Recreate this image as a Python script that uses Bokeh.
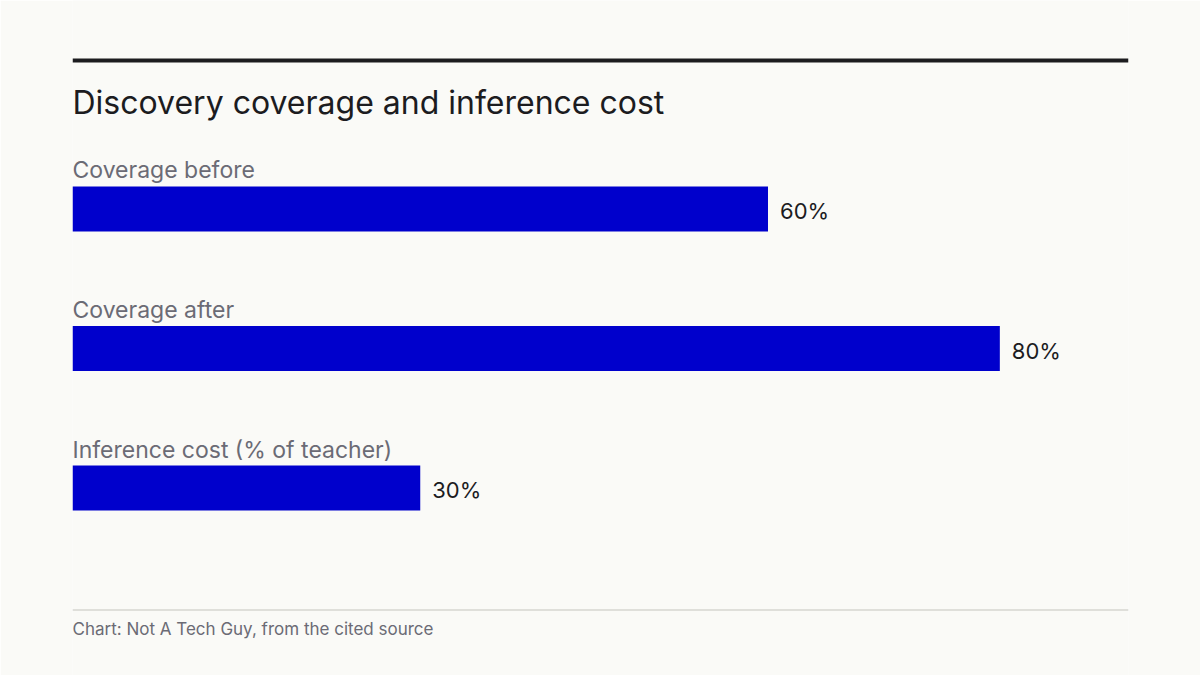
from bokeh.plotting import figure
from bokeh.models import ColumnDataSource, Range1d, Label, Span
from bokeh.core.properties import value
from bokeh.embed import file_html
from bokeh.resources import INLINE

# Data
categories = ["Coverage before", "Coverage after", "Inference cost (% of teacher)"]
values = [60, 80, 30]
value_labels = ["60%", "80%", "30%"]

title_text = "Discovery coverage and inference cost"
footer_text = "Chart: Not A Tech Guy, from the cited source"

BG = "#fafaf7"
BAR = "#0000cc"
INK = "#1c1c1f"
GREY = "#6b6b75"
FONT = "Inter"

W, H = 1200, 675
BAR_H = 0.3226

idx = list(range(len(categories)))
src = ColumnDataSource(dict(
    y=idx,
    v=values,
    cat=categories,
    lbl=value_labels,
    top=[i - BAR_H / 2 for i in idx],
))

p = figure(
    width=W, height=H,
    x_range=Range1d(0, 91.1),
    y_range=Range1d(3.344, -1.4946),
    x_axis_type=None, y_axis_type=None,
    output_backend="svg", toolbar_location=None,
    min_border_left=72, min_border_right=72,
    min_border_top=0, min_border_bottom=0,
)
p.outline_line_color = None
p.grid.visible = False
p.background_fill_color = BG
p.border_fill_color = BG

# Bars
p.hbar(y="y", right="v", left=0, height=BAR_H, source=src,
       fill_color=BAR, line_color=None)

# Value labels at the end of each bar
p.text(x="v", y="y", text="lbl", source=src, x_offset=12, y_offset=2,
       text_font=value(FONT), text_font_size="22px", text_color=INK,
       text_baseline="middle", text_align="left")

# Category labels above each bar
p.text(x=0, y="top", text="cat", source=src, y_offset=-16,
       text_font=value(FONT), text_font_size="23px", text_color=GREY,
       text_baseline="middle", text_align="left")

# Header rule and title
p.add_layout(Span(location=H - 60, location_units="screen", dimension="width",
                  line_color=INK, line_width=4))
p.add_layout(Label(x=0, y=H - 101.7, x_units="data", y_units="screen",
                   text=title_text, text_font=FONT, text_font_size="32px",
                   text_color=INK, text_baseline="middle"))

# Footer rule and source note
p.add_layout(Span(location=H - 609.5, location_units="screen", dimension="width",
                  line_color="#d6d6d1", line_width=1.5))
p.add_layout(Label(x=0, y=H - 628.3, x_units="data", y_units="screen",
                   text=footer_text, text_font=FONT, text_font_size="17px",
                   text_color=GREY, text_baseline="middle"))

open("out.html", "w").write(file_html(p, INLINE))
